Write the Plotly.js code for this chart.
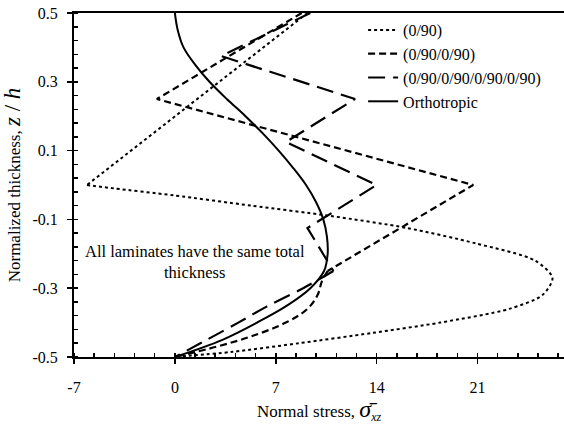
<!DOCTYPE html>
<html>
<head>
<meta charset="utf-8">
<script src="https://cdn.plot.ly/plotly-3.0.1.min.js"></script>
<style>html,body{margin:0;padding:0;background:#fff;}#chart{width:564px;height:436px;}</style>
</head>
<body>
<div id="chart"></div>
<script>
// (0/90) laminate
const lam2LinZ = [0.5, 0.0];
const lam2LinX = [9.2, -6.1];
const lam2CurZ = [0.0, -0.01, -0.03, -0.06, -0.09, -0.125, -0.17, -0.22, -0.27, -0.32, -0.36, -0.40, -0.43, -0.46, -0.485, -0.5];
const lam2CurX = [-6.1, -4.2, -0.1, 5.3, 10.8, 16.1, 20.9, 25.0, 26.2, 25.5, 23.2, 18.4, 13.7, 8.6, 4.0, 0];
// (0/90/0/90) laminate
const lam4LinZ = [0.5, 0.25, 0.0, -0.25];
const lam4LinX = [8.8, -1.25, 20.7, 10.6];
const lam4CurZ = [-0.25, -0.28, -0.32, -0.36, -0.40, -0.44, -0.47, -0.5];
const lam4CurX = [10.6, 10.2, 9.9, 9.2, 7.7, 5.3, 2.9, 0];
// (0/90/0/90/0/90/0/90) laminate
const lam8LinZ = [0.5, 0.375, 0.25, 0.125, 0.0, -0.125, -0.25];
const lam8LinX = [9.4, 3.2, 12.5, 7.7, 14.0, 9.2, 11.0];
const lam8CurZ = [-0.25, -0.30, -0.355, -0.40, -0.455, -0.5];
const lam8CurX = [11.0, 8.9, 6.3, 4.4, 2.0, 0];
// Orthotropic
const orthoZ = [0.5, 0.45, 0.4, 0.35, 0.3, 0.25, 0.2, 0.15, 0.1, 0.05, 0, -0.05, -0.1, -0.15, -0.2, -0.25, -0.3, -0.35, -0.4, -0.45, -0.5];
const orthoX = [0, 0.2, 0.6, 1.4, 2.4, 3.6, 4.9, 6.1, 7.2, 8.2, 9.1, 9.8, 10.3, 10.55, 10.6, 10.35, 9.4, 7.8, 5.7, 3.3, 0];

const xTickVals = [-7, 0, 7, 14, 21];
const xTickText = ['-7', '0', '7', '14', '21'];
const yTickVals = [-0.5, -0.3, -0.1, 0.1, 0.3, 0.5];
const yTickText = ['-0.5', '-0.3', '-0.1', '0.1', '0.3', '0.5'];

const names = ['(0/90)', '(0/90/0/90)', '(0/90/0/90/0/90/0/90)', 'Orthotropic'];

const FONT = 'Liberation Serif';
const dotted = {color: '#000', width: 2, dash: 'dot'};
const shortDash = {color: '#000', width: 2.2, dash: '7px,4px'};
const longDash = {color: '#000', width: 2.2, dash: '17px,8px'};
const solid = {color: '#000', width: 2};

const traces = [
  {x: lam2LinX, y: lam2LinZ, mode: 'lines', name: names[0], legendgroup: 'a', line: dotted},
  {x: lam2CurX, y: lam2CurZ, mode: 'lines', name: names[0], legendgroup: 'a', showlegend: false, line: Object.assign({shape: 'spline', smoothing: 0.8}, dotted)},
  {x: lam4LinX, y: lam4LinZ, mode: 'lines', name: names[1], legendgroup: 'b', line: shortDash},
  {x: lam4CurX, y: lam4CurZ, mode: 'lines', name: names[1], legendgroup: 'b', showlegend: false, line: Object.assign({shape: 'spline', smoothing: 1}, shortDash)},
  {x: lam8LinX, y: lam8LinZ, mode: 'lines', name: names[2], legendgroup: 'c', line: longDash},
  {x: lam8CurX, y: lam8CurZ, mode: 'lines', name: names[2], legendgroup: 'c', showlegend: false, line: Object.assign({shape: 'spline', smoothing: 1}, longDash)},
  {x: orthoX, y: orthoZ, mode: 'lines', name: names[3], legendgroup: 'd', line: Object.assign({shape: 'spline', smoothing: 1}, solid)}
];

const layout = {
  width: 564, height: 436,
  margin: {l: 74, r: 0, t: 13, b: 79},
  paper_bgcolor: '#fff', plot_bgcolor: '#fff',
  font: {family: FONT, size: 15, color: '#000'},
  showlegend: true,
  legend: {x: 0.59, y: 1.0, xanchor: 'left', yanchor: 'top', bgcolor: 'rgba(0,0,0,0)',
           font: {family: FONT, size: 16, color: '#000'}, itemwidth: 30, tracegroupgap: 0},
  xaxis: {
    range: [-7, 27], tickmode: 'array', tickvals: xTickVals, ticktext: xTickText,
    showgrid: false, zeroline: false, showline: true, linecolor: '#000', linewidth: 2, mirror: true,
    ticks: 'outside', ticklen: 5, tickwidth: 1.5, tickcolor: '#000', ticklabelstandoff: 10,
    minor: {dtick: 1.4, tick0: -7, ticks: 'inside', ticklen: 4, tickwidth: 1.5, tickcolor: '#000', showgrid: false},
    tickfont: {family: FONT, size: 16, color: '#000'},
    title: {text: 'Normal stress, <span style="font-size:24px"><i>σ̄</i></span><sub><i>xz</i></sub>', font: {family: FONT, size: 17, color: '#000'}, standoff: 9}
  },
  yaxis: {
    range: [-0.5, 0.5], tickmode: 'array', tickvals: yTickVals, ticktext: yTickText,
    showgrid: false, zeroline: false, showline: true, linecolor: '#000', linewidth: 2,
    ticks: 'outside', ticklen: 5, tickwidth: 1.5, tickcolor: '#000', ticklabelstandoff: 6,
    minor: {dtick: 0.04, tick0: -0.5, ticks: 'inside', ticklen: 4, tickwidth: 1.5, tickcolor: '#000', showgrid: false},
    tickfont: {family: FONT, size: 16, color: '#000'},
    title: {text: 'Normalized thickness, <span style="font-size:23px"><i>z</i> / <i>h</i></span>', font: {family: FONT, size: 17, color: '#000'}, standoff: 10}
  },
  annotations: [{
    x: 1.4, y: -0.225, xref: 'x', yref: 'y', showarrow: false,
    text: 'All laminates have the same total<br>thickness', align: 'center',
    font: {family: FONT, size: 16.5, color: '#000'}
  }]
};

Plotly.newPlot('chart', traces, layout, {displayModeBar: false, staticPlot: true});
</script>
</body>
</html>
